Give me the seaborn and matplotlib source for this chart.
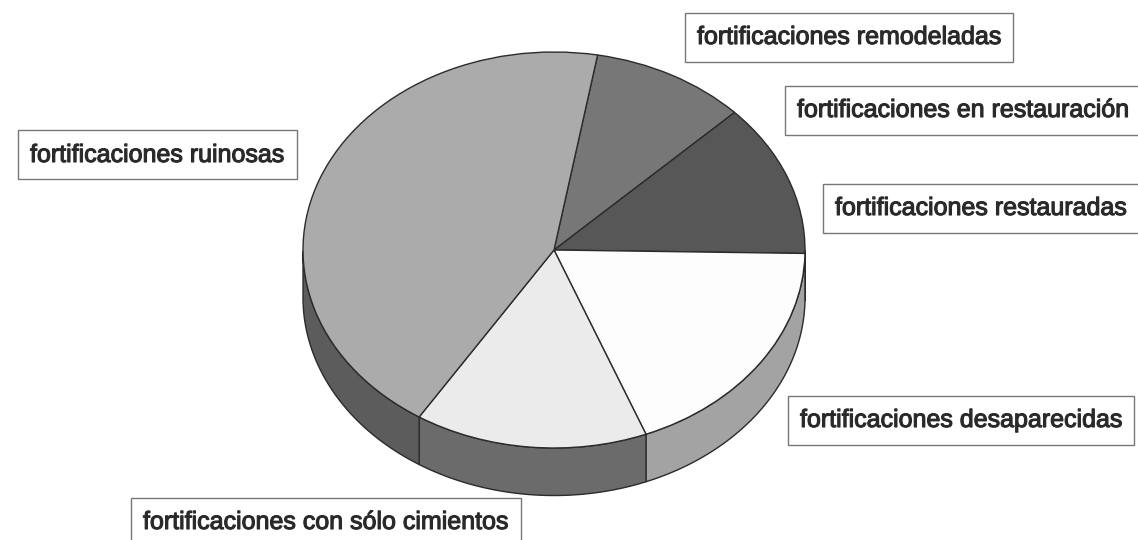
import numpy as np
import matplotlib.pyplot as plt
import matplotlib.patheffects as pe
import seaborn as sns
from matplotlib.patches import Polygon

sns.set_theme(style="white")
plt.rcParams['font.family'] = ['Liberation Sans', 'DejaVu Sans']

# data, clockwise from the top of the pie
labels = ['fortificaciones remodeladas', 'fortificaciones en restauración',
          'fortificaciones restauradas', 'fortificaciones desaparecidas',
          'fortificaciones con sólo cimientos', 'fortificaciones ruinosas']
values = [0, 16, 20, 30, 24, 70]

top_colors = ['#8a8a8a', '#777777', '#575757', '#fdfdfd', '#ebebeb', '#ababab']
side_colors = ['#555555', '#505050', '#404040', '#a3a3a3', '#6b6b6b', '#5c5c5c']

# label boxes: left edge and vertical centre of the text, in pixels
label_pos = [(697, 37), (797, 110), (835, 208), (800, 420), (143, 522), (30, 155)]

W, H = 1138, 540
cx, cy, rx, ry = 554, 250, 251, 198   # pie top ellipse in pixels
depth = 0.24                          # side height in units of the y radius

fig = plt.figure(figsize=(W / 100, H / 100), dpi=100)
ax = fig.add_axes([0, 0, 1, 1])

wedges, _ = ax.pie(values, colors=top_colors, startangle=80, counterclock=False,
                   radius=1, center=(0, 0),
                   wedgeprops=dict(edgecolor='#2b2b2b', linewidth=1.0))
for w in wedges:
    w.set_zorder(3)

# front side of the cylinder, only where the rim faces the viewer
for w, col in zip(wedges, side_colors):
    t = np.radians(np.linspace(w.theta1, w.theta2, 400))
    front = np.sin(t) < 0
    if not front.any():
        continue
    idx = np.flatnonzero(front)
    runs = np.split(idx, np.flatnonzero(np.diff(idx) > 1) + 1)
    for r in runs:
        xs, ys = np.cos(t[r]), np.sin(t[r])
        verts = np.vstack([np.column_stack([xs, ys]),
                           np.column_stack([xs[::-1], ys[::-1] - depth])])
        ax.add_patch(Polygon(verts, closed=True, facecolor=col,
                             edgecolor='#2b2b2b', linewidth=1.0, zorder=2))

ax.set_aspect('auto')
ax.set_xlim(-cx / rx, (W - cx) / rx)
ax.set_ylim((cy - H) / ry, cy / ry)
ax.axis('off')

for lab, (px, py) in zip(labels, label_pos):
    t = fig.text(px / W, 1 - py / H, lab, ha='left', va='center', fontsize=18,
                 color='#2a2a2a',
                 bbox=dict(boxstyle='square,pad=0.5', facecolor='white',
                           edgecolor='#777777', linewidth=1.0))
    t.set_path_effects([pe.withStroke(linewidth=0.8, foreground='#2a2a2a')])

fig.savefig('out.png', dpi=100, facecolor='white')
